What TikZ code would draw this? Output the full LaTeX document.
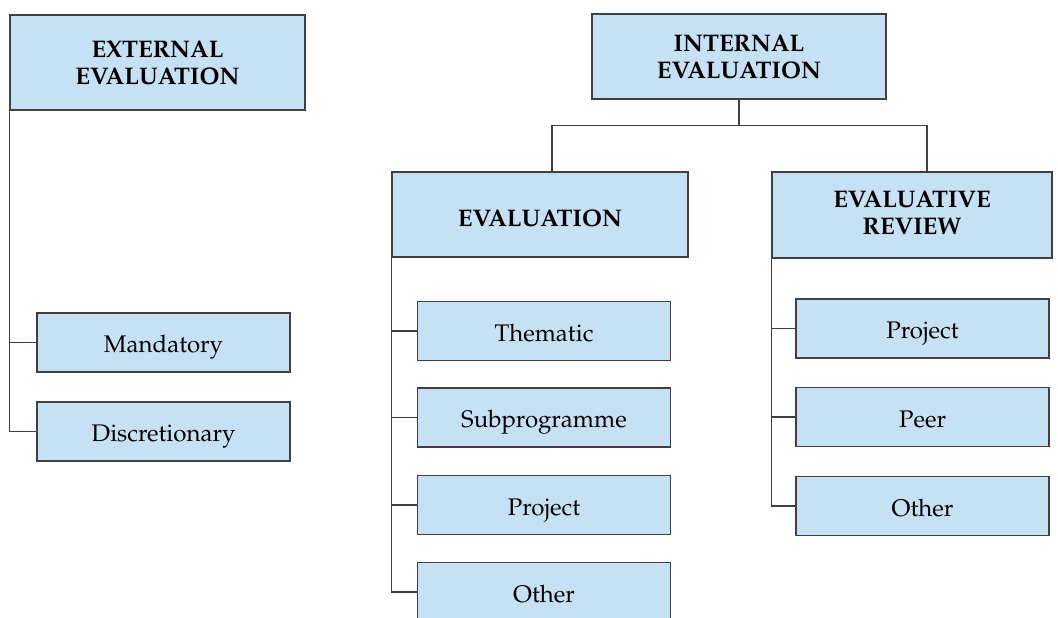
\documentclass[tikz,border=0pt]{standalone}
\usepackage[T1]{fontenc}
\usepackage{mathpazo}
\usetikzlibrary{positioning}

\definecolor{boxfill}{RGB}{198,224,244}
\definecolor{boxline}{RGB}{64,64,64}

\begin{document}
\begin{tikzpicture}[x=0.5pt, y=-0.5pt]
	\tikzset{
		box/.style={
			draw=boxline,
			fill=boxfill,
			line width=0.75pt,
			inner sep=0pt,
			align=center,
			font=\fontsize{12}{13.5}\selectfont
		},
		head box/.style={
			box,
			font=\fontsize{12}{13.5}\selectfont\bfseries
		},
		leaf box/.style={
			box,
			minimum width=126.5pt,
			minimum height=29.5pt,
			text height=10pt,
			text depth=0pt
		},
		link/.style={
			draw=boxline,
			line width=0.6pt
		},
	}

	\clip (0,0) rectangle (1058,617);

	% top level
	\node[head box, minimum width=147.5pt, minimum height=47.5pt] (ext) at (157.5,62.5) {EXTERNAL\\EVALUATION};
	\node[head box, minimum width=147pt, minimum height=42.5pt] (int) at (739,56.5) {INTERNAL\\EVALUATION};
	\node[head box, minimum width=148pt, minimum height=42.5pt, text height=12pt, text depth=0pt] (eval) at (540,214.5) {EVALUATION};
	\node[head box, minimum width=140pt, minimum height=43pt, text depth=2pt] (rev) at (912,215) {EVALUATIVE\\REVIEW};

	% external
	\node[leaf box] (mand) at (163.5,342.5) {Mandatory};
	\node[leaf box] (disc) at (163.5,431.5) {Discretionary};

	% evaluation
	\node[leaf box] (them) at (544,331) {Thematic};
	\node[leaf box] (sub) at (544,417.5) {Subprogramme};
	\node[leaf box] (proj) at (544,505) {Project};
	\node[leaf box] (oth) at (544,592) {Other};

	% evaluative review
	\node[leaf box] (rproj) at (922.5,328.5) {Project};
	\node[leaf box] (peer) at (922.5,417) {Peer};
	\node[leaf box] (roth) at (922.5,506) {Other};

	% connectors
	\path (int.south) ++(0,26) coordinate (bar);
	\draw[link] (int.south) -- (bar);
	\draw[link] ([xshift=6pt]eval.north) |- (bar) -| ([xshift=7.5pt]rev.north);

	\draw[link] (ext.south west) |- (disc.west);
	\draw[link] (ext.south west |- mand.west) -- (mand.west);

	\draw[link] (eval.south west) |- (oth.west);
	\foreach \n in {them, sub, proj}
		\draw[link] (eval.south west |- \n.west) -- (\n.west);

	\draw[link] (rev.south west) |- (roth.west);
	\foreach \n in {rproj, peer}
		\draw[link] (rev.south west |- \n.west) -- (\n.west);
\end{tikzpicture}
\end{document}
